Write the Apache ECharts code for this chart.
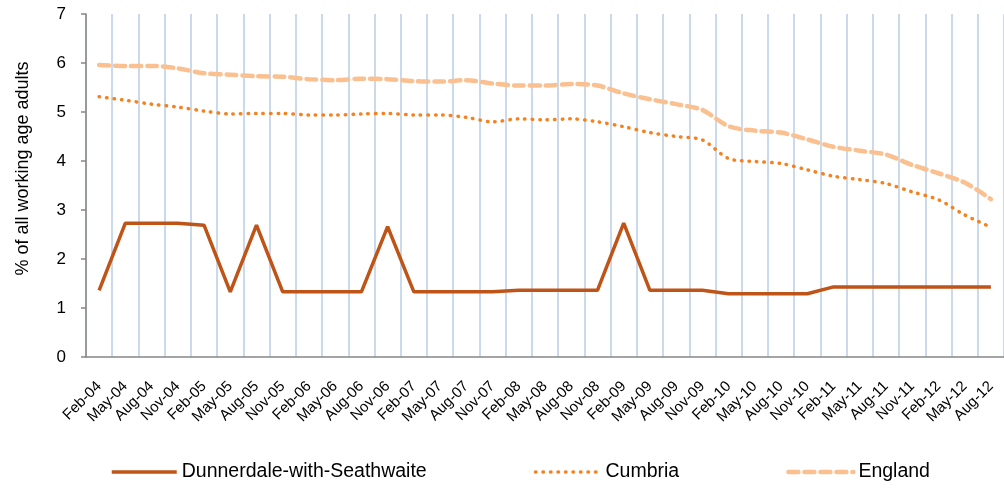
<!DOCTYPE html>
<html>
<head>
<meta charset="utf-8">
<script src="https://cdn.jsdelivr.net/npm/echarts@6/dist/echarts.min.js"></script>
<style>
  body { margin: 0; background: #fff; }
  #charts1 { width: 1004px; height: 488px; }
</style>
</head>
<body>
<div id="charts1"></div>
<script>
var months = [
  "Feb-04", "May-04", "Aug-04", "Nov-04",
  "Feb-05", "May-05", "Aug-05", "Nov-05",
  "Feb-06", "May-06", "Aug-06", "Nov-06",
  "Feb-07", "May-07", "Aug-07", "Nov-07",
  "Feb-08", "May-08", "Aug-08", "Nov-08",
  "Feb-09", "May-09", "Aug-09", "Nov-09",
  "Feb-10", "May-10", "Aug-10", "Nov-10",
  "Feb-11", "May-11", "Aug-11", "Nov-11",
  "Feb-12", "May-12", "Aug-12"
];
var dunnerdale = [
  1.36, 2.73, 2.73, 2.73,
  2.69, 1.33, 2.69, 1.33,
  1.33, 1.33, 1.33, 2.66,
  1.33, 1.33, 1.33, 1.33,
  1.36, 1.36, 1.36, 1.36,
  2.73, 1.36, 1.36, 1.36,
  1.29, 1.29, 1.29, 1.29,
  1.43, 1.43, 1.43, 1.43,
  1.43, 1.43, 1.43
];
var cumbria = [
  5.31, 5.24, 5.16, 5.10,
  5.02, 4.96, 4.97, 4.97,
  4.94, 4.94, 4.96, 4.97,
  4.94, 4.94, 4.89, 4.80,
  4.86, 4.84, 4.86, 4.80,
  4.70, 4.58, 4.50, 4.43,
  4.05, 3.99, 3.95, 3.82,
  3.69, 3.62, 3.54, 3.37,
  3.21, 2.90, 2.65
];
var england = [
  5.96, 5.94, 5.94, 5.89,
  5.79, 5.76, 5.73, 5.72,
  5.67, 5.65, 5.68, 5.67,
  5.63, 5.62, 5.65, 5.58,
  5.54, 5.54, 5.57, 5.54,
  5.38, 5.26, 5.16, 5.04,
  4.71, 4.62, 4.58, 4.44,
  4.29, 4.21, 4.13, 3.92,
  3.75, 3.56, 3.22
];

var myChart1 = echarts.init(document.getElementById("charts1"));
myChart1.setOption({
  animation: false,
  textStyle: { fontFamily: "Liberation Sans, Arial, sans-serif", color: "#000" },
  grid: {
    left: 86,
    right: 0,
    top: 14,
    bottom: 131
  },
  legend: {
    left: 110,
    top: 462,
    padding: 0,
    itemGap: 107,
    itemWidth: 65,
    itemHeight: 14,
    itemStyle: { opacity: 0 },
    textStyle: { fontSize: 19.5, color: "#000" },
    data: [
      { name: "Dunnerdale-with-Seathwaite", lineStyle: { width: 3.5 } },
      { name: "Cumbria", lineStyle: { width: 3.5 } },
      { name: "England", lineStyle: { width: 4.5 } }
    ]
  },
  xAxis: {
    type: "category",
    data: months,
    boundaryGap: true,
    axisLine: { lineStyle: { color: "#868686", width: 1.5 } },
    axisTick: { interval: 0, length: 5, lineStyle: { color: "#868686", width: 1.5 } },
    axisLabel: { interval: 0, rotate: 45, fontSize: 15, margin: 27, color: "#000" },
    splitLine: { show: true, interval: 0, lineStyle: { color: "#B9CDE5", width: 1.5 } }
  },
  yAxis: {
    type: "value",
    min: 0,
    max: 7,
    interval: 1,
    name: "% of all working age adults",
    nameLocation: "middle",
    nameGap: 54,
    nameTextStyle: { fontSize: 18, color: "#000", padding: [0, 0, 0, 34] },
    axisLine: { show: true, lineStyle: { color: "#868686", width: 1.5 } },
    axisTick: { show: true, length: 5, lineStyle: { color: "#868686", width: 1.5 } },
    axisLabel: { fontSize: 17, margin: 20, color: "#000" },
    splitLine: { show: false }
  },
  series: [
    {
      name: "Dunnerdale-with-Seathwaite",
      type: "line",
      data: dunnerdale,
      symbol: "none",
      lineStyle: { color: "#BF5419", width: 3.5 },
      itemStyle: { color: "#BF5419" }
    },
    {
      name: "Cumbria",
      type: "line",
      data: cumbria,
      symbol: "none",
      smooth: 0.3,
      lineStyle: { color: "#F5821F", width: 3.5, type: [0.5, 7], cap: "round" },
      itemStyle: { color: "#F5821F" }
    },
    {
      name: "England",
      type: "line",
      data: england,
      symbol: "none",
      smooth: 0.3,
      lineStyle: { color: "#FAC090", width: 4.5, type: [10, 6], cap: "round" },
      itemStyle: { color: "#FAC090" }
    }
  ]
});
</script>
</body>
</html>
